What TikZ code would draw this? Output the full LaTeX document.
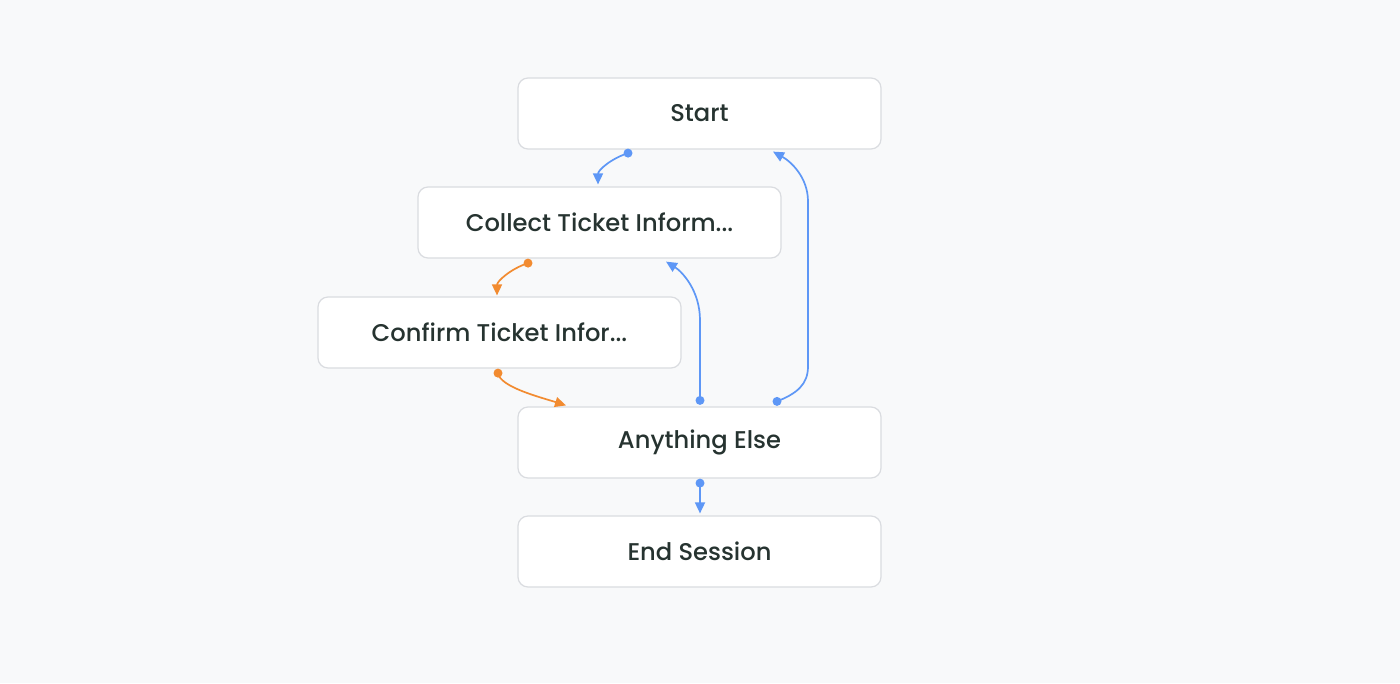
\documentclass[tikz,border=0pt]{standalone}
\usepackage{fontspec}
\setmainfont{Poppins}
\newfontfamily\labelfont{Poppins Medium}
\usetikzlibrary{arrows.meta}
\definecolor{bg}{HTML}{F8F9FA}
\definecolor{boxline}{HTML}{DADCE0}
\definecolor{txt}{HTML}{263330}
\definecolor{cblue}{HTML}{5E97F6}
\definecolor{corange}{HTML}{F28B30}
\tikzset{
  stepbox/.style={draw=boxline, line width=1.2pt, fill=white, rounded corners=10pt,
    minimum width=363pt, minimum height=71pt, inner sep=0pt,
    font=\labelfont\fontsize{24.2}{28}\selectfont, text=txt},
  conn/.style={line width=1.7pt, -{Triangle[length=11pt,width=10pt]}},
  blueconn/.style={conn, draw=cblue},
  orangeconn/.style={conn, draw=corange},
  dotb/.style={circle, fill=cblue, inner sep=0pt, minimum size=9pt},
  doto/.style={circle, fill=corange, inner sep=0pt, minimum size=9pt}
}
\begin{document}
\begin{tikzpicture}[x=1pt,y=-1pt]
\fill[bg] (0,0) rectangle (1400,683);
\useasboundingbox (0,0) rectangle (1400,683);
\node[stepbox] (start) at (699.5,113.5) {\raisebox{1pt}{Start}};
\node[stepbox] (collect) at (599.5,222.5) {\raisebox{1pt}{Collect Ticket Inform...}};
\node[stepbox] (confirm) at (499.5,332.5) {\raisebox{1pt}{Confirm Ticket Infor...}};
\node[stepbox] (anything) at (699.5,442.5) {\raisebox{1pt}{Anything Else}};
\node[stepbox] (endsess) at (699.5,551.5) {\raisebox{1pt}{End Session}};
% dots
\node[dotb] (d1) at ([xshift=-71.5pt,yshift=-3.5pt]start.south) {};
\node[doto] (d2) at ([xshift=-71.5pt,yshift=-4.5pt]collect.south) {};
\node[doto] (d3) at ([xshift=-1.5pt,yshift=-4.5pt]confirm.south) {};
\node[dotb] (d4) at ([xshift=0.5pt,yshift=6pt]anything.north) {};
\node[dotb] (d5) at ([xshift=77.5pt,yshift=5pt]anything.north) {};
\node[dotb] (d6) at ([xshift=0.5pt,yshift=-4.5pt]anything.south) {};
% targets
\coordinate (t1) at ([xshift=-1.5pt,yshift=2pt]collect.north);
\coordinate (t2) at ([xshift=-2.5pt,yshift=1pt]confirm.north);
\coordinate (t3) at ([xshift=-133.5pt,yshift=1pt]anything.north);
\coordinate (t4) at ([xshift=66.5pt,yshift=-3pt]collect.south);
\coordinate (t5) at ([xshift=73.5pt,yshift=-2pt]start.south);
\coordinate (t6) at ([xshift=0.5pt,yshift=2pt]endsess.north);
% connectors
\draw[blueconn] (d1.center) .. controls +(-18,6) and +(0,-14) .. (t1);
\draw[orangeconn] (d2.center) .. controls +(-18,6) and +(0,-14) .. (t2);
\draw[orangeconn] (d3.center) .. controls +(2,14) and +(-25,-8) .. (t3);
\draw[blueconn] (d4.center) -- ++(0,-80) .. controls +(0,-30) and +(16,10) .. (t4);
\draw[blueconn] (d5.center) .. controls +(20,-8) and +(0,18) .. ++(31,-35) -- ++(0,-165) .. controls +(0,-24) and +(18,10) .. (t5);
\draw[blueconn] (d6.center) -- (t6);
\end{tikzpicture}
\end{document}
